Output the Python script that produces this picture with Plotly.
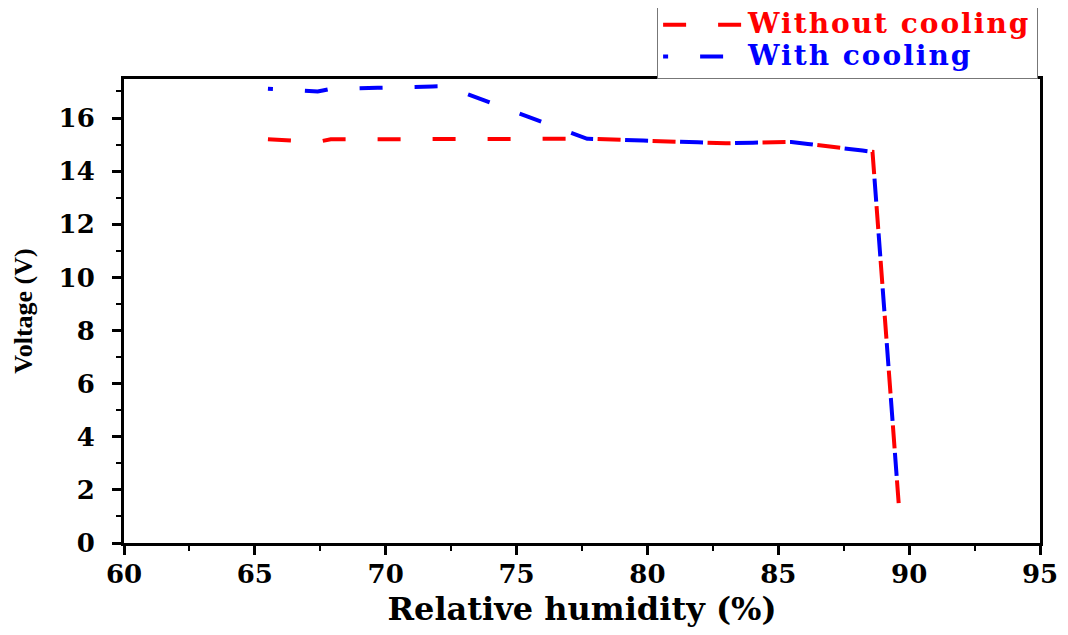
import plotly.graph_objects as go

# Data
rh_without = [65.5, 67.4, 67.9, 72.3, 77.7, 83.0, 85.5, 88.6, 89.6]
v_without = [15.2, 15.1, 15.2, 15.2, 15.22, 15.05, 15.1, 14.73, 1.5]

rh_with = [65.5, 67.4, 67.9, 72.3, 77.7, 83.0, 85.5, 88.6, 89.6]
v_with = [17.1, 17.0, 17.1, 17.2, 15.22, 15.05, 15.1, 14.73, 1.5]

x_ticks = [60, 65, 70, 75, 80, 85, 90, 95]
y_ticks = [0, 2, 4, 6, 8, 10, 12, 14, 16]

TICK_FONT = dict(family="DejaVu Serif", size=26, color="black", weight="bold")
LEG_STYLE = "font-size:28px;letter-spacing:2px"

fig = go.Figure()
fig.add_trace(go.Scatter(
    x=rh_without, y=v_without, mode="lines",
    name=f"<span style='color:#ff0000;{LEG_STYLE}'><b>Without cooling</b></span>",
    line=dict(color="#ff0000", width=4, dash="23px,32px"),
))
fig.add_trace(go.Scatter(
    x=rh_with, y=v_with, mode="lines",
    name=f"<span style='color:#0000ff;{LEG_STYLE}'><b>With cooling</b></span>",
    line=dict(color="#0000ff", width=4, dash="5px,32px,18px,0px"),
))

axis_common = dict(
    showline=True, linecolor="black", linewidth=3, mirror=True,
    ticks="outside", ticklen=9, tickwidth=3, tickcolor="black",
    showgrid=False, zeroline=False, tickfont=TICK_FONT, automargin=False,
)

fig.update_xaxes(
    range=[60, 95], tickvals=x_ticks, ticktext=[str(v) for v in x_ticks],
    ticklabelstandoff=-3,
    minor=dict(dtick=2.5, ticks="outside", ticklen=5, tickwidth=2, tickcolor="black"),
    title=dict(text="<b>Relative humidity (%)</b>", standoff=22,
               font=dict(family="DejaVu Serif", size=32, color="black")),
    **axis_common,
)
fig.update_yaxes(
    range=[0, 17.47], tickvals=y_ticks, ticktext=[str(v) for v in y_ticks],
    ticklabelstandoff=12,
    minor=dict(dtick=1, ticks="outside", ticklen=5, tickwidth=2, tickcolor="black"),
    title=dict(text="<b>Voltage (V)</b>", standoff=19,
               font=dict(family="Liberation Serif", size=26, color="black")),
    **axis_common,
)

# The page body adds an 8px offset; size and margins compensate so the
# plot area sits where it does in the reference.
fig.update_layout(
    width=1060, height=620,
    margin=dict(l=116, r=28, t=71, b=85, autoexpand=False),
    paper_bgcolor="white", plot_bgcolor="white",
    showlegend=True,
    legend=dict(
        x=0.582, y=1.1638, xanchor="left", yanchor="top",
        bgcolor="white", bordercolor="#777777", borderwidth=1,
        font=dict(family="DejaVu Serif", size=22, color="black"),
        tracegroupgap=0, itemwidth=80,
    ),
)

fig.write_html("out.html")
